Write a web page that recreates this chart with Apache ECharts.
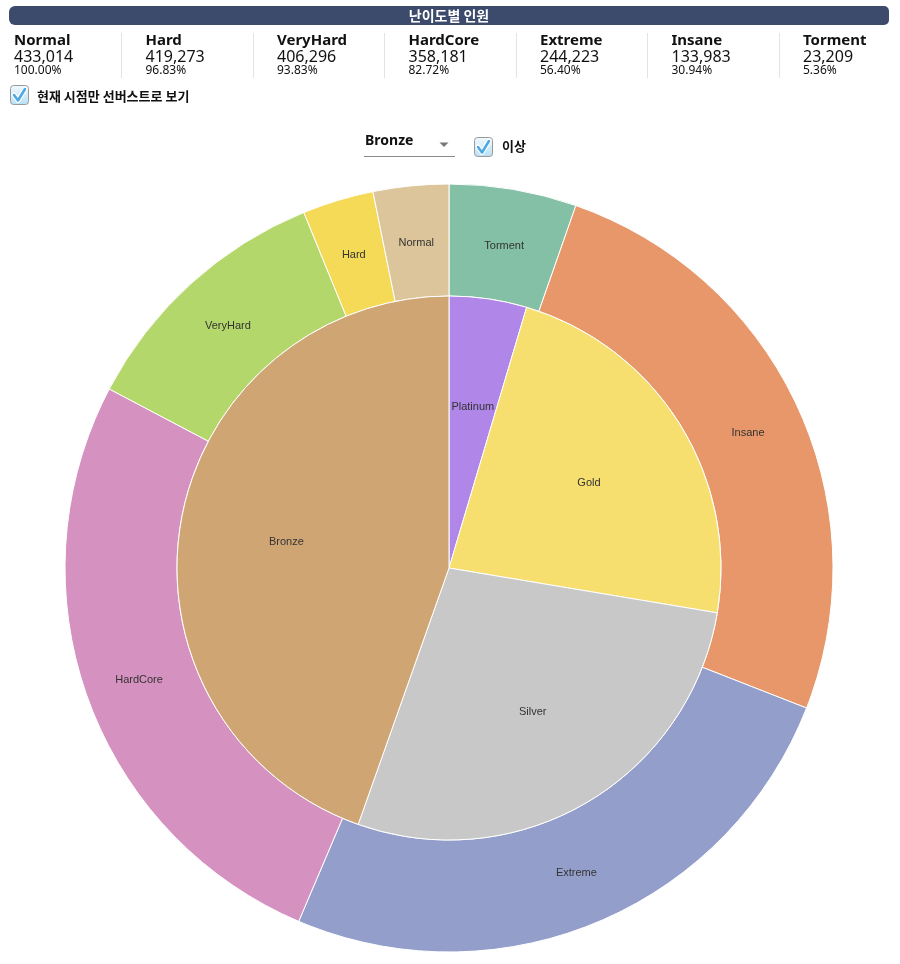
<!DOCTYPE html>
<html><head><meta charset="utf-8">
<script src="https://cdn.jsdelivr.net/npm/echarts@6/dist/echarts.min.js"></script>
<style>html,body{margin:0;padding:0;background:#fff}#c{width:900px;height:964px}</style>
</head><body><div id="c"></div>
<script>
// ---- data ----
const difficulties = ['Normal','Hard','VeryHard','HardCore','Extreme','Insane','Torment'];
const clearCounts = [433014,419273,406296,358181,244223,133983,23209];
const clearPercents = ['100.00%','96.83%','93.83%','82.72%','56.40%','30.94%','5.36%'];
const ringCategories = ['Torment','Insane','Extreme','HardCore','VeryHard','Hard','Normal'];
const ringValues = [23209,110774,110240,113958,48115,12977,13741];
const tierCategories = ['Platinum','Gold','Silver','Bronze'];
const tierValues = [19950,99720,120300,193040];
const titleText = '난이도별 인원';
const sunburstToggleText = '현재 시점만 선버스트로 보기';
const selectedTier = 'Bronze';
const aboveText = '이상';

// ---- styles ----
const ringColors = {Torment:'#83c0a6',Insane:'#e8976a',Extreme:'#939fca',HardCore:'#d591c0',VeryHard:'#b3d76a',Hard:'#f4da56',Normal:'#dcc59a'};
const tierColors = {Platinum:'#b086e8',Gold:'#f6df6e',Silver:'#c8c8c8',Bronze:'#d0a574'};
const CX = 449, CY = 568;
const labelStyle = {show:true, position:'inside', fontSize:11, color:'#333', offset:[0,2], fontFamily:'Liberation Sans, Arial, sans-serif'};

const chart = echarts.init(document.getElementById('c'), null, {renderer:'canvas'});

function fmt(n){ return n.toLocaleString('en-US'); }

function checkbox(x, y){
  return {
    type:'group', x:x, y:y, children:[
      {type:'rect', shape:{x:0.5,y:0.5,width:18,height:19,r:3},
        style:{fill:new echarts.graphic.LinearGradient(0,0,0,1,[{offset:0,color:'#f2f9fe'},{offset:1,color:'#b8dff6'}]), stroke:'#9a9a9a', lineWidth:1}},
      {type:'polyline', shape:{points:[[4,10],[8,15.5],[15,4]]},
        style:{stroke:'#ffffff', lineWidth:5, fill:null, lineCap:'round', lineJoin:'round'}},
      {type:'polyline', shape:{points:[[4,10],[8,15.5],[15,4]]},
        style:{stroke:'#4fa9e3', lineWidth:2.6, fill:null, lineCap:'round', lineJoin:'round'}}
    ]
  };
}

const graphics = [];
// header bar
graphics.push({type:'rect', shape:{x:9,y:6,width:880,height:19,r:[6,5,5,6]}, style:{fill:'#3c4a6b'}});
graphics.push({type:'text', x:449, y:16, style:{text:titleText, fill:'#fff', font:'bold 14px "Noto Sans CJK KR", "Noto Sans", sans-serif', textAlign:'center', textVerticalAlign:'middle'}});
// stats
const colW = 131.5;
difficulties.forEach(function(d, i){
  const x = 14 + i*colW;
  graphics.push({type:'text', x:x, y:41, style:{text:d, fill:'#111', font:'bold 15px "Noto Sans", sans-serif', textVerticalAlign:'middle'}});
  graphics.push({type:'text', x:x, y:57, style:{text:fmt(clearCounts[i]), fill:'#111', font:'16px "Noto Sans", sans-serif', textVerticalAlign:'middle'}});
  graphics.push({type:'text', x:x, y:71, style:{text:clearPercents[i], fill:'#111', font:'12px "Noto Sans", sans-serif', textVerticalAlign:'middle'}});
  if (i < difficulties.length - 1) {
    const lx = Math.round(121 + i*colW) + 0.5;
    graphics.push({type:'line', shape:{x1:lx,y1:33,x2:lx,y2:78}, style:{stroke:'#e3e3e3', lineWidth:1}});
  }
});
// toggle checkbox
graphics.push(checkbox(10,85));
graphics.push({type:'text', x:37, y:96, style:{text:sunburstToggleText, fill:'#111', font:'bold 13px "Noto Sans CJK KR", sans-serif', textVerticalAlign:'middle'}});
// dropdown
graphics.push({type:'text', x:365, y:141.5, style:{text:selectedTier, fill:'#111', font:'bold 14px "Noto Sans", sans-serif', textVerticalAlign:'middle'}});
graphics.push({type:'polygon', shape:{points:[[439.5,142.5],[448.5,142.5],[444,147]]}, style:{fill:'#777'}});
graphics.push({type:'line', shape:{x1:364,y1:156.5,x2:455,y2:156.5}, style:{stroke:'#8a8a8a', lineWidth:1}});
graphics.push(checkbox(474,137));
graphics.push({type:'text', x:502, y:146.5, style:{text:aboveText, fill:'#111', font:'bold 13px "Noto Sans CJK KR", sans-serif', textVerticalAlign:'middle'}});

const outerData = ringCategories.map(function(n,i){ return {name:n, value:ringValues[i], itemStyle:{color:ringColors[n]}}; });
const outerLabelData = ringCategories.map(function(n,i){ return {name:n, value:ringValues[i]}; });
const innerData = tierCategories.map(function(n,i){ return {name:n, value:tierValues[i], itemStyle:{color:tierColors[n]}}; });
const innerLabelData = tierCategories.map(function(n,i){ return {name:n, value:tierValues[i]}; });

chart.setOption({
  animation:false,
  backgroundColor:'#fff',
  graphic:graphics,
  series:[
    {type:'pie', center:[CX,CY], radius:[272,384], startAngle:90, clockwise:true, avoidLabelOverlap:false,
      data:outerData, label:{show:false}, labelLine:{show:false},
      itemStyle:{borderColor:'#fff', borderWidth:1}, emphasis:{disabled:true}},
    {type:'pie', center:[CX,CY], radius:[0,272], startAngle:90, clockwise:true, avoidLabelOverlap:false,
      data:innerData, label:{show:false}, labelLine:{show:false},
      itemStyle:{borderColor:'#fff', borderWidth:1}, emphasis:{disabled:true}},
    {type:'pie', center:[CX,CY], radius:[268,384], startAngle:90, clockwise:true, avoidLabelOverlap:false, silent:true,
      data:outerLabelData, label:labelStyle, labelLine:{show:false},
      itemStyle:{color:'rgba(0,0,0,0)', borderWidth:0}, emphasis:{disabled:true}},
    {type:'pie', center:[CX,CY], radius:[52,272], startAngle:90, clockwise:true, avoidLabelOverlap:false, silent:true,
      data:innerLabelData, label:labelStyle, labelLine:{show:false},
      itemStyle:{color:'rgba(0,0,0,0)', borderWidth:0}, emphasis:{disabled:true}}
  ]
});
</script>
</body></html>
